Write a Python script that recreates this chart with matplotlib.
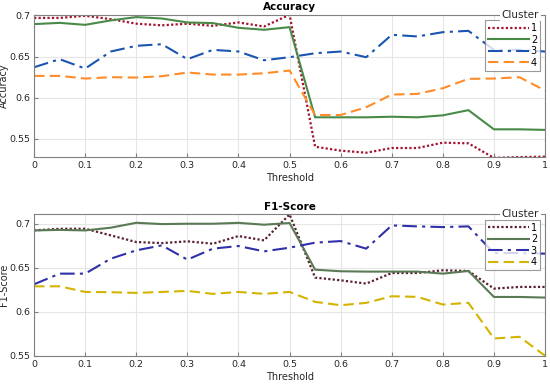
import matplotlib
matplotlib.use("Agg")
import matplotlib.pyplot as plt
import numpy as np

threshold = [0.0, 0.05, 0.1, 0.15, 0.2, 0.25, 0.3, 0.35, 0.4, 0.45, 0.5,
             0.55, 0.6, 0.65, 0.7, 0.75, 0.8, 0.85, 0.9, 0.95, 1.0]

acc_c1 = [0.697, 0.697, 0.6996, 0.6955, 0.690, 0.688, 0.690, 0.6874, 0.6915, 0.6866, 0.7008,
          0.5406, 0.5358, 0.5333, 0.539, 0.539, 0.5455, 0.5447, 0.527, 0.528, 0.5285]
acc_c2 = [0.6895, 0.691, 0.6886, 0.694, 0.698, 0.6963, 0.6915, 0.6907, 0.685, 0.6826, 0.6858,
          0.5763, 0.5763, 0.5763, 0.577, 0.5763, 0.5787, 0.585, 0.5617, 0.5617, 0.561]
acc_c3 = [0.6371, 0.6469, 0.6355, 0.6562, 0.6631, 0.6651, 0.6469, 0.6582, 0.6562, 0.6456, 0.6493,
          0.6541, 0.6562, 0.6493, 0.6765, 0.6745, 0.6797, 0.6813, 0.6582, 0.6582, 0.6562]
acc_c4 = [0.6266, 0.6266, 0.6234, 0.625, 0.6246, 0.6262, 0.6307, 0.6282, 0.6282, 0.6298, 0.6331,
          0.5791, 0.5791, 0.5885, 0.6039, 0.6047, 0.6116, 0.623, 0.6234, 0.625, 0.6088]

f1_c1 = [0.6924, 0.6943, 0.6943, 0.6868, 0.6792, 0.678, 0.680, 0.6773, 0.686, 0.6811, 0.7106,
         0.6388, 0.6357, 0.632, 0.644, 0.644, 0.6471, 0.6463, 0.6263, 0.6282, 0.6282]
f1_c2 = [0.6924, 0.693, 0.6924, 0.6955, 0.7011, 0.6996, 0.700, 0.700, 0.701, 0.6989, 0.7008,
         0.6478, 0.646, 0.6456, 0.6456, 0.6456, 0.6433, 0.6463, 0.6168, 0.6168, 0.6161]
f1_c3 = [0.6312, 0.6433, 0.6433, 0.6603, 0.6698, 0.6754, 0.6592, 0.6717, 0.6747, 0.6686, 0.6728,
         0.6785, 0.6803, 0.6717, 0.6981, 0.697, 0.6962, 0.697, 0.6667, 0.6667, 0.666]
f1_c4 = [0.6289, 0.6289, 0.6225, 0.6222, 0.6214, 0.6225, 0.6237, 0.6203, 0.6225, 0.6203, 0.6225,
         0.6112, 0.6074, 0.6101, 0.6176, 0.6169, 0.6082, 0.6101, 0.5696, 0.5715, 0.55]

cluster_labels = ["1", "2", "3", "4"]

plt.rcParams["font.family"] = "DejaVu Sans"
plt.rcParams["font.size"] = 7

fig = plt.figure(figsize=(5.5, 3.85), dpi=100)
ax1 = fig.add_axes([0.062, 0.592, 0.929, 0.370])
ax2 = fig.add_axes([0.062, 0.076, 0.929, 0.368])

styles_top = [("#A2142F", (0, (1, 1)), 1.6),
              ("#4A8A48", "-", 1.5),
              ("#1A55B0", (0, (7, 2.5, 1.5, 2.5)), 1.5),
              ("#FF8C28", (0, (5, 2.5)), 1.5)]
styles_bot = [("#5A2030", (0, (1, 1)), 1.6),
              ("#5A7A55", "-", 1.5),
              ("#3030A8", (0, (7, 2.5, 1.5, 2.5)), 1.5),
              ("#D4B400", (0, (5, 2.5)), 1.5)]


def draw(ax, series, styles, title, ylabel, ylim, yticks, yticklabels):
    for vals, (c, ls, lw), lab in zip(series, styles, cluster_labels):
        ax.plot(threshold, vals, color=c, linestyle=ls, linewidth=lw, label=lab)
    ax.set_xlim(0, 1)
    ax.set_ylim(*ylim)
    ax.set_xticks(np.arange(0, 1.01, 0.1))
    ax.set_xticklabels(["0", "0.1", "0.2", "0.3", "0.4", "0.5", "0.6", "0.7", "0.8", "0.9", "1"])
    ax.set_yticks(yticks)
    ax.set_yticklabels(yticklabels)
    ax.grid(True, color="#e6e6e6", linewidth=0.8)
    ax.set_axisbelow(True)
    for s in ax.spines.values():
        s.set_color("#808080")
        s.set_linewidth(0.8)
    ax.tick_params(direction="in", length=3, color="#808080", labelcolor="#262626", pad=3,
                   labelsize=6.8)
    ax.set_title(title, fontweight="bold", fontsize=7.5, pad=3)
    ax.set_xlabel("Threshold", labelpad=2, color="#262626")
    ax.set_ylabel(ylabel, color="#262626")
    ax.yaxis.set_label_coords(-0.05, 0.5)
    leg = ax.legend(loc="upper right", bbox_to_anchor=(0.99, 0.96), frameon=True,
                    fancybox=False, handlelength=4.2, handletextpad=0.2,
                    borderpad=0.3, labelspacing=0.15, fontsize=7, borderaxespad=0)
    leg.get_frame().set_edgecolor("#808080")
    leg.get_frame().set_linewidth(0.8)
    ax.text(0.952, 1.0, "Cluster", transform=ax.transAxes, ha="center", va="center",
            fontsize=7.5, color="#262626",
            bbox=dict(facecolor="white", edgecolor="none", pad=1), zorder=10)


draw(ax1, [acc_c1, acc_c2, acc_c3, acc_c4], styles_top, "Accuracy", "Accuracy",
     (0.528, 0.701), [0.55, 0.6, 0.65, 0.7], ["0.55", "0.6", "0.65", "0.7"])
draw(ax2, [f1_c1, f1_c2, f1_c3, f1_c4], styles_bot, "F1-Score", "F1-Score",
     (0.55, 0.711), [0.55, 0.6, 0.65, 0.7], ["0.55", "0.6", "0.65", "0.7"])

fig.savefig("out.png", dpi=100)
